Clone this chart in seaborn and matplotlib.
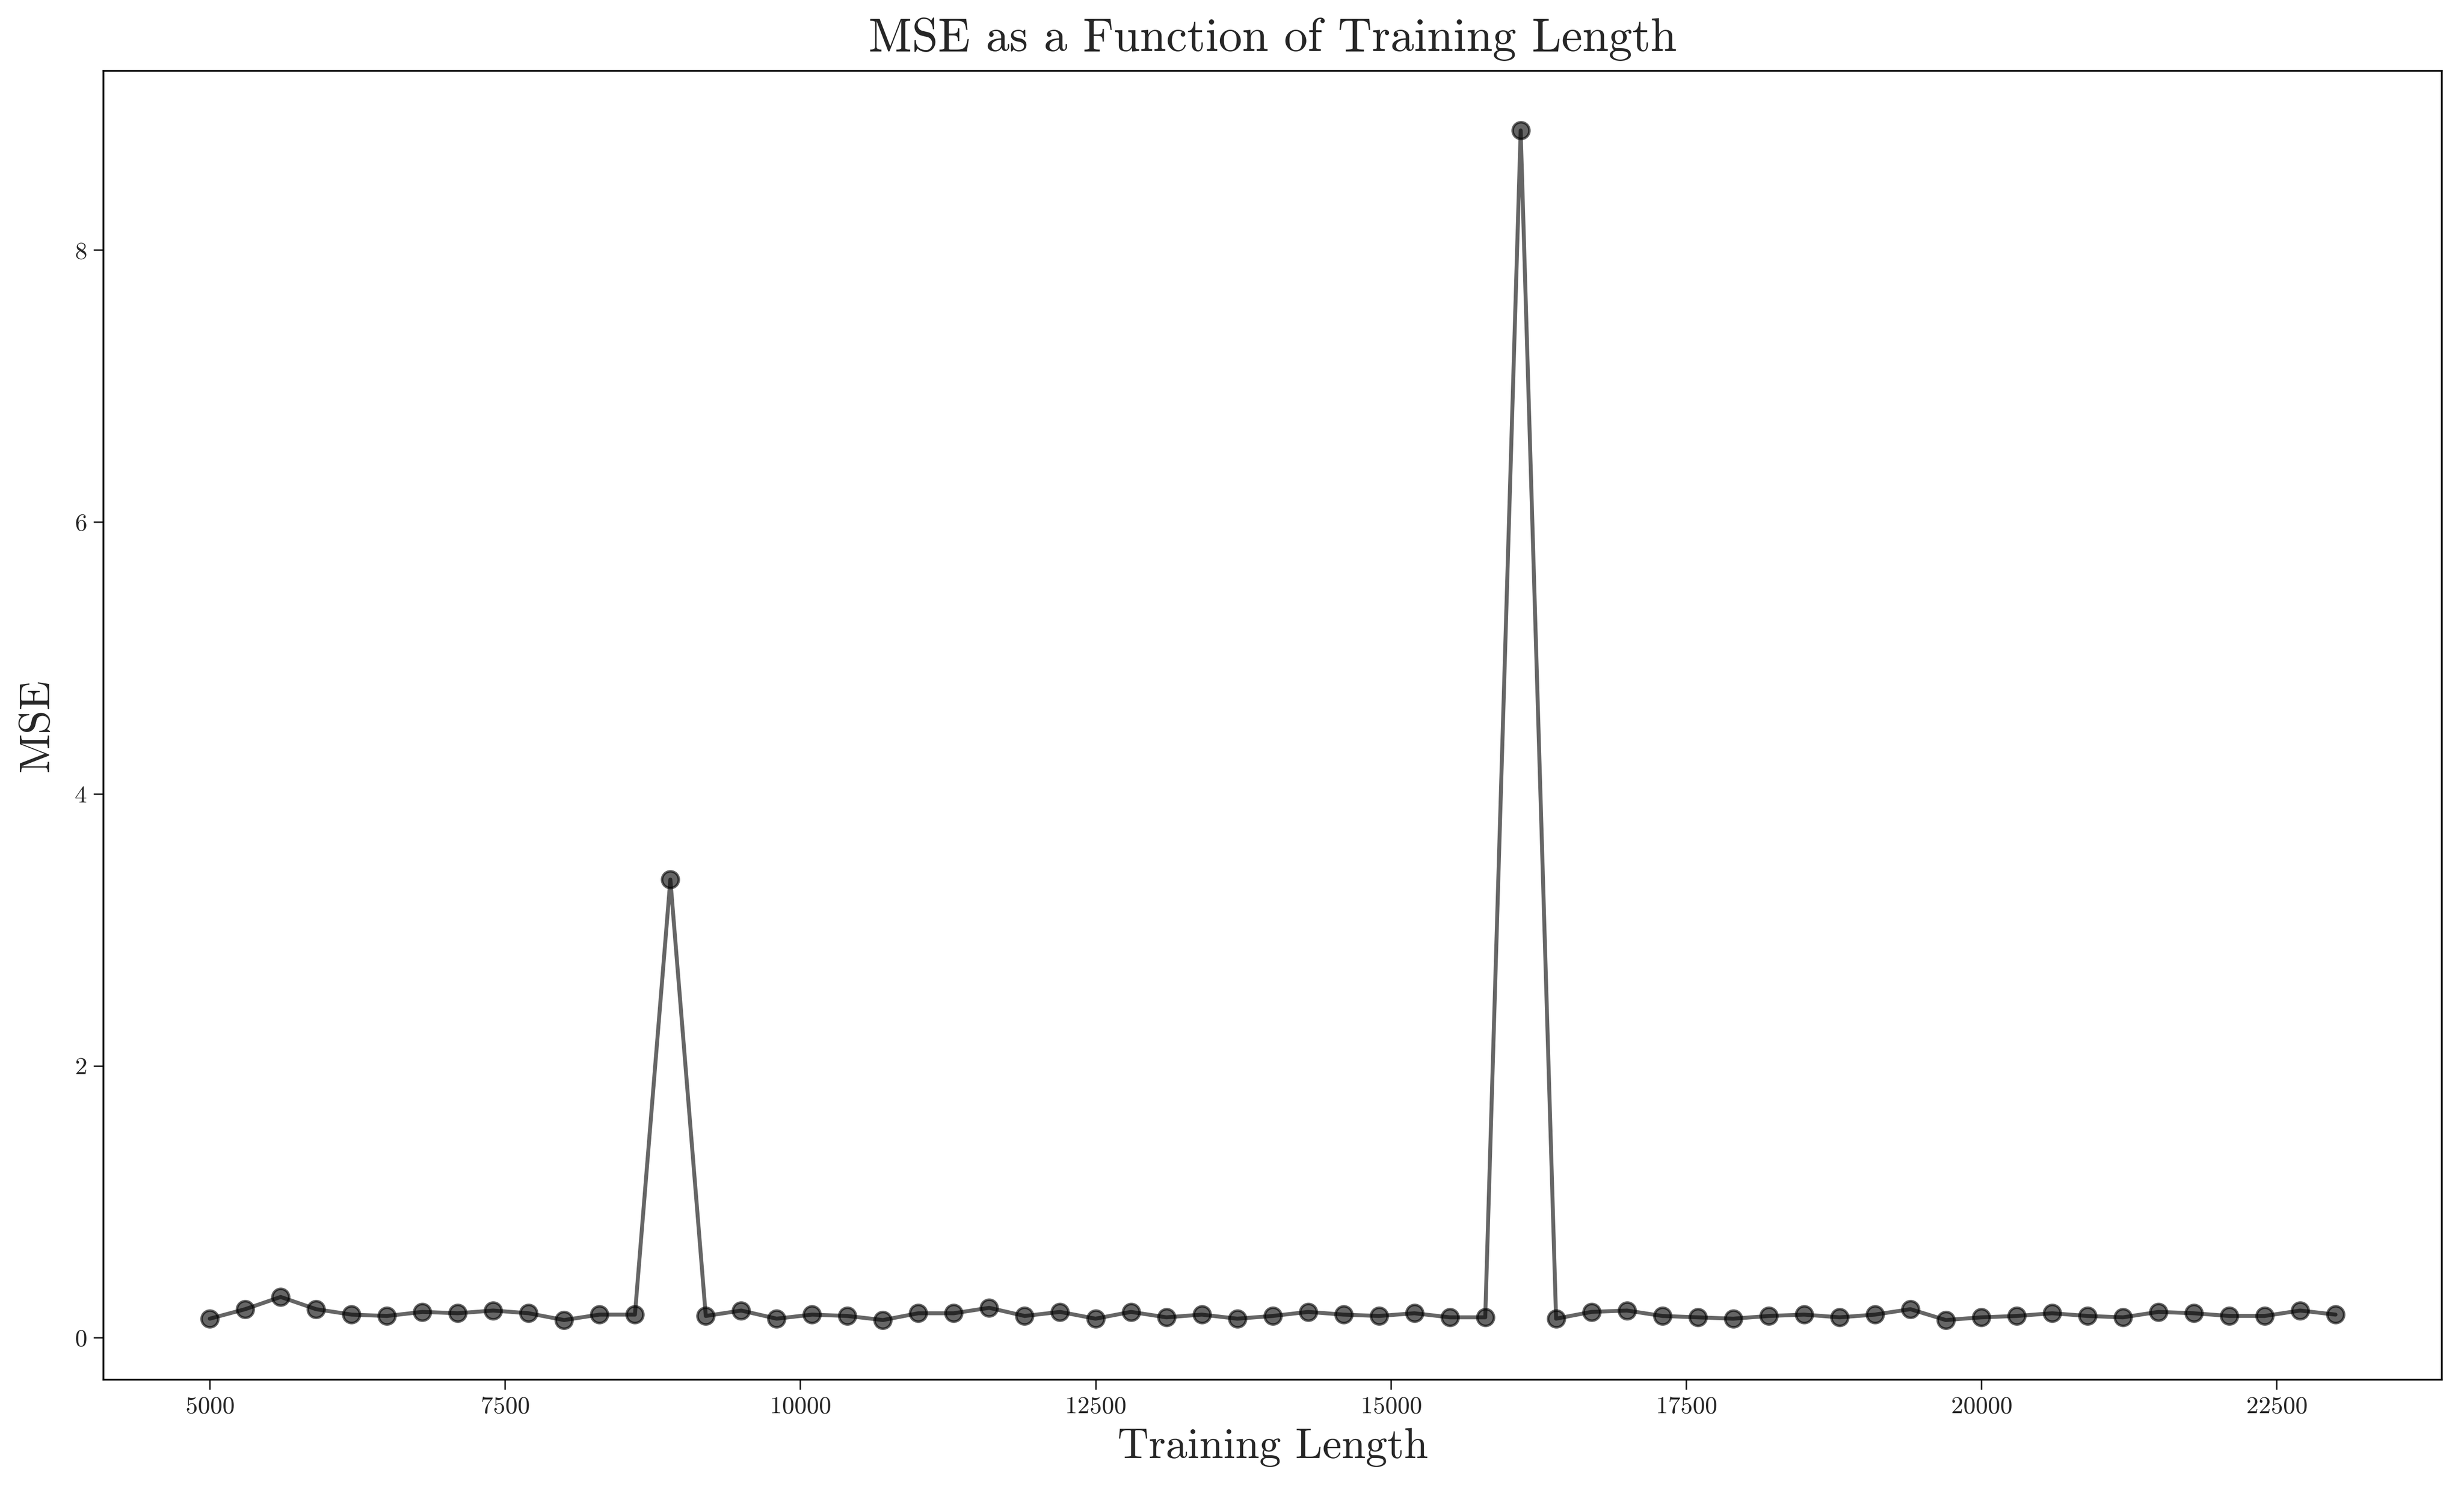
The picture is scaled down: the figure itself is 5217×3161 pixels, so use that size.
import matplotlib
matplotlib.use("Agg")
import matplotlib.pyplot as plt
import seaborn as sns
import pandas as pd

# Data
training_length = list(range(5000, 23001, 300))
mse = [0.14, 0.21, 0.30, 0.21, 0.17, 0.16, 0.19, 0.18, 0.20, 0.18,
       0.13, 0.17, 0.17, 3.37, 0.16, 0.20, 0.14, 0.17, 0.16, 0.13,
       0.18, 0.18, 0.22, 0.16, 0.19, 0.14, 0.19, 0.15, 0.17, 0.14,
       0.16, 0.19, 0.17, 0.16, 0.18, 0.15, 0.15, 8.88, 0.14, 0.19,
       0.20, 0.16, 0.15, 0.14, 0.16, 0.17, 0.15, 0.17, 0.21, 0.13,
       0.15, 0.16, 0.18, 0.16, 0.15, 0.19, 0.18, 0.16, 0.16, 0.20,
       0.17]

df = pd.DataFrame({"Training Length": training_length, "MSE": mse})

sns.set_style("ticks")
plt.rcParams["font.family"] = "serif"
plt.rcParams["font.serif"] = ["cmr10", "DejaVu Serif"]
plt.rcParams["mathtext.fontset"] = "cm"
plt.rcParams["axes.formatter.use_mathtext"] = True

fig = plt.figure(figsize=(5217 / 300, 3161 / 300), dpi=300)
ax = fig.add_axes([0.042, 0.076, 0.949, 0.8765])

sns.lineplot(data=df, x="Training Length", y="MSE", ax=ax, color="black",
             alpha=0.6, marker="o", markersize=8.5, linewidth=2,
             markeredgecolor="black", markeredgewidth=1.3)

ax.set_title("MSE as a Function of Training Length", fontsize=24, pad=10)
ax.set_xlabel("Training Length", fontsize=22, labelpad=5)
ax.set_ylabel("MSE", fontsize=22, labelpad=9)
ax.tick_params(labelsize=12.5, length=5, width=0.8, direction="out")
for s in ax.spines.values():
    s.set_linewidth(0.9)
    s.set_color("black")

fig.savefig("out.png", dpi=300)
plt.close(fig)
